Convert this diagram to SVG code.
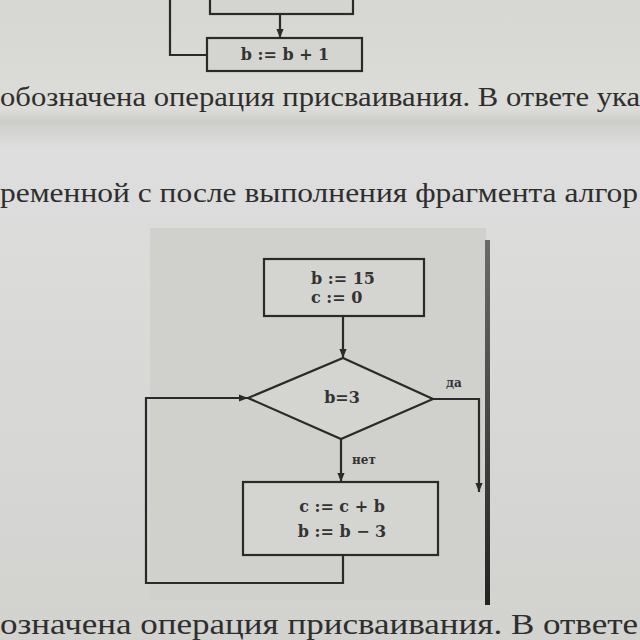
<svg xmlns="http://www.w3.org/2000/svg" width="640" height="640" viewBox="0 0 640 640">
<defs>
<linearGradient id="paper" x1="0" y1="0" x2="0" y2="1">
<stop offset="0" stop-color="#d6d6d2"/>
<stop offset="0.17" stop-color="#dcdcd8"/>
<stop offset="0.19" stop-color="#cdcdc9"/>
<stop offset="0.23" stop-color="#dedede"/>
<stop offset="1" stop-color="#d2d2cf"/>
</linearGradient>
<linearGradient id="edge" x1="0" y1="0" x2="0" y2="1">
<stop offset="0" stop-color="#6a6a6a"/>
<stop offset="1" stop-color="#222"/>
</linearGradient>
<marker id="ah" viewBox="0 0 10 10" refX="10" refY="5" markerWidth="11" markerHeight="9" markerUnits="userSpaceOnUse" orient="auto">
<path d="M0,1 L10,5 L0,9 Z" fill="#2a2a2a"/>
</marker>
<style>
.ln{fill:none;stroke:#2a2a2a;stroke-width:2.2}
.bx{fill:#d4d4d0;stroke:#2a2a2a;stroke-width:2.2}
.ft{font-family:"DejaVu Serif","Liberation Serif",serif;font-weight:bold;font-size:16px;fill:#333}
.lb{font-family:"DejaVu Serif","Liberation Serif",serif;font-weight:bold;font-size:12px;fill:#333}
.bt{font-family:"Liberation Serif","DejaVu Serif",serif;fill:#2e2e2e}
</style>
</defs>
<rect x="0" y="0" width="640" height="640" fill="url(#paper)"/>
<rect x="150" y="228" width="336" height="372" fill="#d0d0cc"/>
<rect x="485" y="240" width="5" height="365" fill="url(#edge)"/>

<g id="top-fragment">
<rect class="bx" x="210" y="-10" width="143" height="24"/>
<rect class="bx" x="207" y="38" width="155" height="33"/>
<text class="ft" x="285" y="60" text-anchor="middle">b := b + 1</text>
</g>

<text class="bt" x="0" y="106" font-size="28" textLength="640" lengthAdjust="spacingAndGlyphs">обозначена операция присваивания. В ответе ука</text>
<text class="bt" x="0" y="202" font-size="28" textLength="638" lengthAdjust="spacingAndGlyphs">ременной с после выполнения фрагмента алгор</text>

<g id="connectors">
<line class="ln" x1="280" y1="14" x2="280" y2="38" marker-end="url(#ah)"/>
<polyline class="ln" points="170,0 170,55 207,55"/>
<line class="ln" x1="343" y1="316" x2="343" y2="358" marker-end="url(#ah)"/>
<line class="ln" x1="341" y1="439" x2="341" y2="482" marker-end="url(#ah)"/>
<polyline class="ln" points="433,399 479,399 479,492" marker-end="url(#ah)"/>
<polyline class="ln" points="343,555 343,583 146,583 146,398 248,398" marker-end="url(#ah)"/>
</g>

<g id="init">
<rect class="bx" x="264" y="259" width="160" height="57"/>
<text class="ft" x="311" y="284">b := 15</text>
<text class="ft" x="311" y="303">c := 0</text>
</g>

<g id="cond">
<polygon class="bx" points="343,358 433,399 341,439 248,398"/>
<text class="ft" x="342" y="403" text-anchor="middle">b=3</text>
</g>
<text class="lb" x="446" y="387">да</text>
<text class="lb" x="352" y="464">нет</text>

<g id="body">
<rect class="bx" x="243" y="482" width="195" height="73"/>
<text class="ft" x="342" y="512" text-anchor="middle">c := c + b</text>
<text class="ft" x="342" y="537" text-anchor="middle">b := b − 3</text>
</g>

<text class="bt" x="0" y="634" font-size="30" textLength="638" lengthAdjust="spacingAndGlyphs">означена операция присваивания. В ответе</text>
</svg>
